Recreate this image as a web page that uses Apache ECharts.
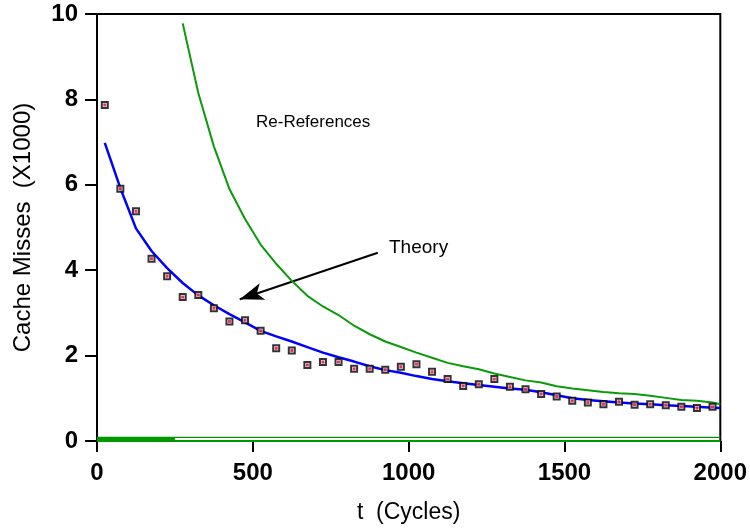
<!DOCTYPE html>
<html>
<head>
<meta charset="utf-8">
<script src="https://cdn.jsdelivr.net/npm/echarts@6/dist/echarts.min.js"></script>
<style>html,body{margin:0;padding:0;background:#fff;}#c{width:750px;height:529px;}</style>
</head>
<body>
<div id="c"></div>
<script>
// Measured cache misses (x1000)
var measT = [25,75,125,175,225,275,325,375,425,475,525,575,625,675,725,775,825,875,925,975,1025,1075,1125,1175,1225,1275,1325,1375,1425,1475,1525,1575,1625,1675,1725,1775,1825,1875,1925,1975];
var measV = [7.87,5.91,5.38,4.27,3.86,3.37,3.42,3.11,2.80,2.83,2.58,2.17,2.12,1.78,1.85,1.85,1.69,1.69,1.67,1.74,1.80,1.62,1.45,1.29,1.33,1.45,1.27,1.21,1.10,1.04,0.94,0.90,0.86,0.92,0.85,0.86,0.84,0.80,0.77,0.80];
// Theory curve
var theoryT = [25,75,125,175,225,275,325,375,425,475,525,575,625,675,725,775,825,875,925,975,1025,1075,1125,1175,1225,1275,1325,1375,1425,1475,1525,1575,1625,1675,1725,1775,1825,1875,1925,1975,2000];
var theoryV = [6.98,5.92,4.98,4.45,4.05,3.70,3.41,3.18,2.97,2.78,2.58,2.45,2.33,2.20,2.07,1.96,1.86,1.75,1.66,1.60,1.52,1.45,1.40,1.35,1.31,1.27,1.23,1.20,1.14,1.07,1.00,0.96,0.93,0.90,0.88,0.86,0.84,0.82,0.80,0.78,0.77];
// Re-References curve
var reRefT = [275,325,375,425,475,525,575,625,675,725,775,825,875,925,975,1025,1075,1125,1175,1225,1275,1325,1375,1425,1475,1525,1575,1625,1675,1725,1775,1825,1875,1925,1975,2000];
var reRefV = [9.78,8.15,6.90,5.90,5.20,4.60,4.15,3.75,3.40,3.15,2.95,2.70,2.50,2.33,2.20,2.07,1.95,1.83,1.75,1.68,1.58,1.50,1.42,1.37,1.28,1.23,1.19,1.15,1.12,1.10,1.06,1.01,0.96,0.94,0.90,0.86];
// Baseline lines near zero
var baseT = [0,2000];
var baseHigh = [0.085,0.085];
var baseLow = [0,0];
var bandT = [0,250];
var bandV = [0.045,0.045];
// Axis ticks
var xTicks = [0,500,1000,1500,2000];
var yTicks = [0,2,4,6,8,10];

function zip(a,b){return a.map(function(v,i){return [v,b[i]];});}

var chart = echarts.init(document.getElementById('c'), null, {renderer:'canvas'});
var font = '"Liberation Sans", Arial, Helvetica, sans-serif';
chart.setOption({
  animation:false,
  backgroundColor:'#fff',
  grid:{left:97,right:29,top:14,bottom:87,show:true,borderColor:'#000',borderWidth:2,backgroundColor:'transparent'},
  xAxis:{type:'value',min:xTicks[0],max:xTicks[xTicks.length-1],interval:500,
    name:'t  (Cycles)',nameLocation:'middle',nameGap:60,
    nameTextStyle:{fontFamily:font,fontSize:23,color:'#000'},
    axisLine:{show:true,lineStyle:{color:'#000',width:2}},
    axisTick:{show:true,inside:false,length:11,lineStyle:{color:'#000',width:2}},
    axisLabel:{margin:20,fontFamily:font,fontSize:24,fontWeight:'bold',color:'#000',
      formatter:function(v){return String(v);}},
    splitLine:{show:false}},
  yAxis:{type:'value',min:yTicks[0],max:yTicks[yTicks.length-1],interval:2,
    name:'Cache Misses  (X1000)',nameLocation:'middle',nameGap:62,nameRotate:90,
    nameTextStyle:{fontFamily:font,fontSize:24,color:'#000'},
    axisLine:{show:true,lineStyle:{color:'#000',width:2}},
    axisTick:{show:true,inside:false,length:12,lineStyle:{color:'#000',width:2}},
    axisLabel:{margin:19,fontFamily:font,fontSize:24,fontWeight:'bold',color:'#000',
      formatter:function(v){return String(v);}},
    splitLine:{show:false}},
  graphic:[
    {type:'text',left:256,top:114,style:{text:'Re-References',font:'17px '+font,fill:'#000'}},
    {type:'text',left:389,top:238,style:{text:'Theory',font:'19px '+font,fill:'#000'}}
  ],
  series:[
    {type:'line',data:zip(baseT,baseLow),symbol:'none',lineStyle:{color:'#009900',width:2.2},z:5},
    {type:'line',data:zip(baseT,baseHigh),symbol:'none',lineStyle:{color:'#009900',width:1.2},z:5},
    {type:'line',data:zip(bandT,bandV),symbol:'none',lineStyle:{color:'#009900',width:4},z:5},
    {type:'line',name:'Re-References',data:zip(reRefT,reRefV),symbol:'none',lineStyle:{color:'#0a9a0a',width:2},z:5},
    {type:'line',name:'Theory',data:zip(theoryT,theoryV),symbol:'none',lineStyle:{color:'#0000ff',width:2.5},z:6,
      markLine:{silent:true,symbol:['none','arrow'],symbolSize:[13,24],
        lineStyle:{color:'#000',width:2,type:'solid'},label:{show:false},
        data:[[{coord:[901,4.41]},{coord:[458,3.32]}]]}},
    {type:'scatter',data:zip(measT,measV),symbol:'rect',symbolSize:[6,6],
      itemStyle:{color:'#fff',borderColor:'#000',borderWidth:2},z:7},
    {type:'scatter',data:zip(measT,measV),symbol:'rect',symbolSize:[3,3],
      itemStyle:{color:'#e0003c'},z:8}
  ]
});
</script>
</body>
</html>
